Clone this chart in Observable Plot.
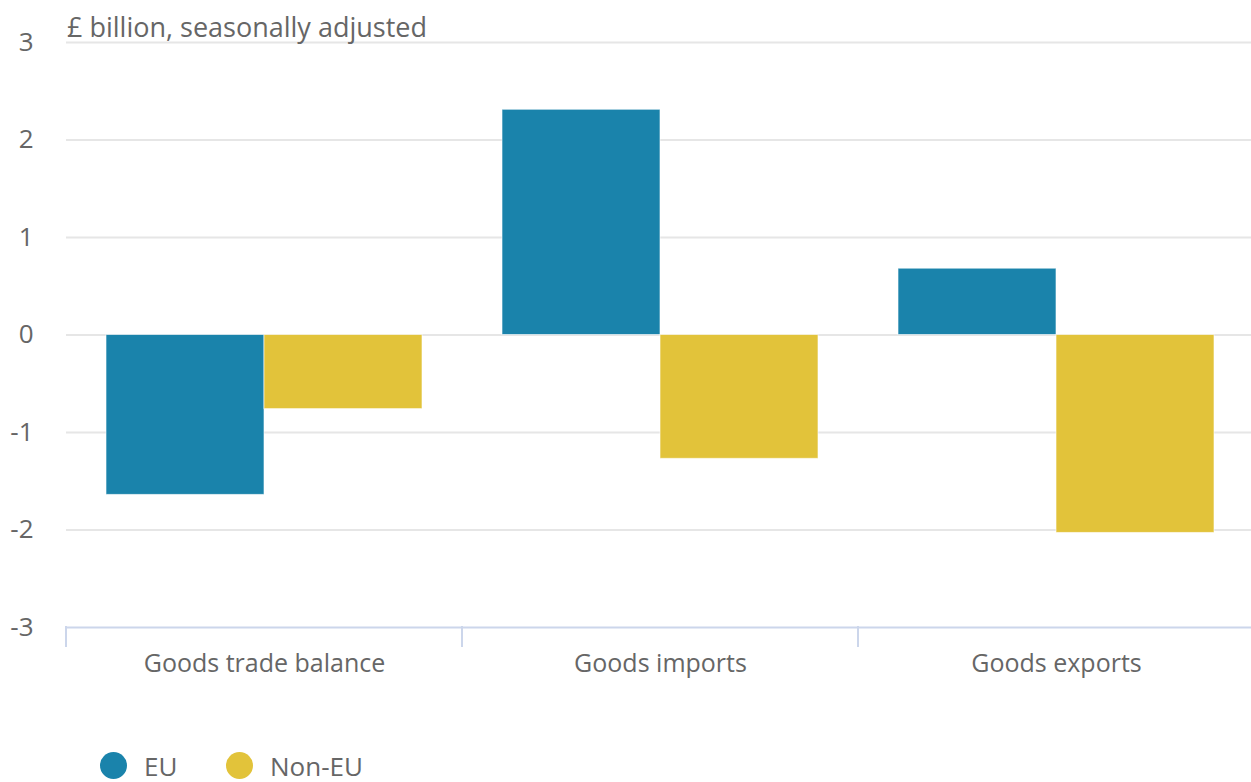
<!DOCTYPE html>
<html>
<head>
<meta charset="utf-8">
<script src="https://cdn.jsdelivr.net/npm/d3@7"></script>
<script src="https://cdn.jsdelivr.net/npm/@observablehq/plot@0.6"></script>
<style>
  html, body { margin: 0; padding: 0; background: #fff; width: 1251px; height: 782px; overflow: hidden; }
  body { position: relative; font-family: "Open Sans", sans-serif; color: #666; }
  #title { position: absolute; left: 67px; top: 13px; font-size: 27px; line-height: 27px; color: #666; white-space: nowrap; }
  #chart { position: absolute; left: 0; top: 0; width: 1251px; overflow: hidden; }
  #chart svg { max-width: none !important; }
  .legend-item { position: absolute; top: 752px; height: 27px; display: flex; align-items: center; font-size: 26px; line-height: 26px; color: #666; white-space: nowrap; }
  .swatch { width: 27px; height: 27px; border-radius: 50%; margin-right: 17px; }
</style>
</head>
<body>
<div id="chart"></div>
<div id="title">£ billion, seasonally adjusted</div>
<div id="legend"></div>
<script>
const categories = ["Goods trade balance", "Goods imports", "Goods exports"];
const series = ["EU", "Non-EU"];
const euValues = [-1.64, 2.31, 0.68];
const nonEuValues = [-0.76, -1.27, -2.03];
const yTicks = [-3, -2, -1, 0, 1, 2, 3];
const seriesColors = ["#1a83ab", "#e2c33a"];

const data = [];
categories.forEach((c, i) => {
  data.push({category: c, series: series[0], value: euValues[i]});
  data.push({category: c, series: series[1], value: nonEuValues[i]});
});

const chart = Plot.plot({
  width: 1255,
  height: 740,
  marginLeft: 65,
  marginRight: 0,
  marginTop: 42,
  marginBottom: 113,
  style: {fontFamily: "'Open Sans', sans-serif", fontSize: "26px", color: "#666", background: "transparent", maxWidth: "none"},
  fx: {domain: categories, padding: 0, label: null, axis: "bottom", tickSize: 0, tickPadding: 27},
  x: {domain: series, axis: null, paddingInner: 0, paddingOuter: 0.25},
  y: {domain: [-3, 3], ticks: yTicks, tickSize: 0, tickPadding: 33, label: null, tickFormat: d => String(d)},
  color: {domain: series, range: seriesColors},
  marks: [
    Plot.gridY(yTicks.filter(t => t > -3), {stroke: "#e6e6e6", strokeOpacity: 1, strokeWidth: 2}),
    Plot.ruleY([-3], {stroke: "#ccd6eb", strokeWidth: 2}),
    Plot.barY(data, {fx: "category", x: "series", y: "value", fill: "series", stroke: "#ffffff", strokeOpacity: 0.6, strokeWidth: 1})
  ]
});

document.getElementById("chart").appendChild(chart);

// Category axis labels a touch smaller than the value labels
d3.select(chart).selectAll("[aria-label='fx-axis tick label'] text, g[aria-label='fx-axis tick label']")
  .style("font-size", "25px");

// Category boundary ticks (Highcharts style) at the left edge of each fx band
const fx = chart.scale("fx");
const yS = chart.scale("y");
const y0 = yS.apply(-3);
const bounds = categories.map(c => fx.apply(c));
d3.select(chart).append("g")
  .selectAll("line")
  .data(bounds)
  .join("line")
  .attr("x1", d => d)
  .attr("x2", d => d)
  .attr("y1", y0 - 1)
  .attr("y2", y0 + 20)
  .attr("stroke", "#ccd6eb")
  .attr("stroke-width", 2);

// Legend
const legend = document.getElementById("legend");
const legendLeft = [100, 226];
series.forEach((s, i) => {
  const item = document.createElement("div");
  item.className = "legend-item";
  item.style.left = legendLeft[i] + "px";
  const sw = document.createElement("div");
  sw.className = "swatch";
  sw.style.background = seriesColors[i];
  const t = document.createElement("span");
  t.textContent = s;
  item.appendChild(sw);
  item.appendChild(t);
  legend.appendChild(item);
});
</script>
</body>
</html>
